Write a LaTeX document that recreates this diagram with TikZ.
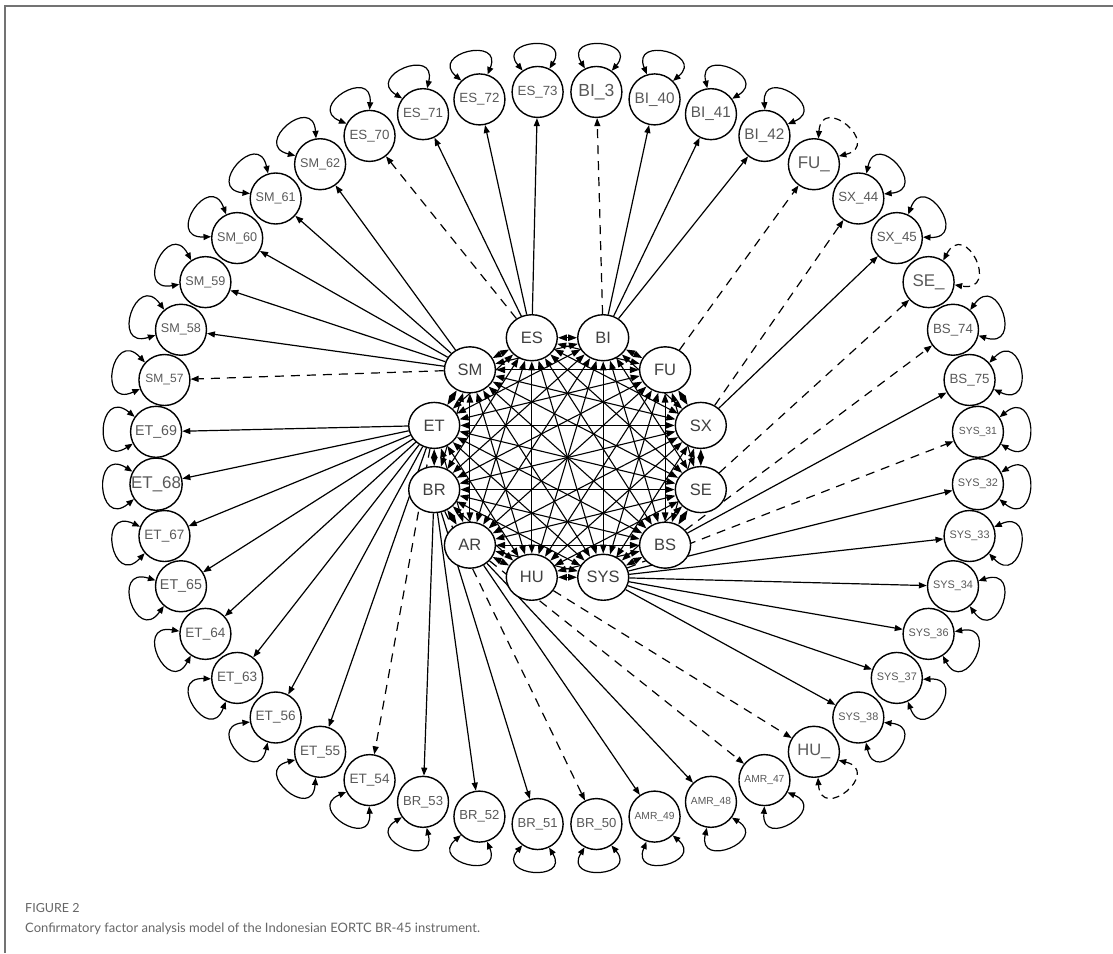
\documentclass[tikz,border=0pt]{standalone}
\usepackage{fontspec}
\setmainfont{Liberation Sans}
\newfontfamily\capfont{Lato}
\usepackage{graphicx}
\usetikzlibrary{arrows.meta,shapes.geometric}
\pgfdeclarelayer{background}
\pgfsetlayers{background,main}
\begin{document}
\begin{tikzpicture}[x=1pt,y=-1pt,
  latnode/.style={draw, line width=1.4pt, fill=white, ellipse, minimum width=51pt, minimum height=46pt, inner sep=0pt, font=\fontsize{16.5}{16.5}\selectfont, text=black!75},
  indnode/.style={draw, line width=1.4pt, fill=white, circle, minimum size=51pt, inner sep=0pt, text=black!65},
  load/.style={line width=1.2pt, -{Triangle[length=8pt,width=6pt]}},
  fixload/.style={load, dash pattern=on 9pt off 7pt},
  cov/.style={line width=1.1pt, {Triangle[length=9pt,width=6.5pt]}-{Triangle[length=9pt,width=6.5pt]}},
  selfloop/.style={line width=1.2pt, {Triangle[length=7.5pt,width=6pt]}-{Triangle[length=7.5pt,width=6pt]}},
  fixloop/.style={selfloop, dash pattern=on 7pt off 5pt},
  framel/.style={draw=black!55, line width=1.6pt}
]
\useasboundingbox (0,0) rectangle (1113,953);
% frame
\coordinate (ftl) at (5,6);
\coordinate (ftr) at (1113,6);
\coordinate (fbl) at (5,953);
\draw[framel] (fbl) -- (ftl) -- (ftr);

% latent factors
\foreach \nm/\ang in {ES/105,BI/75,FU/45,SX/15,SE/-15,BS/-45,SYS/-75,HU/-105,AR/-135,BR/-165,ET/165,SM/135}{
  \pgfmathsetmacro\px{567.5+138*cos(\ang)}
  \pgfmathsetmacro\py{457.5-124*sin(\ang)}
  \node[latnode] (\nm) at (\px,\py) {\nm};
}

% indicators
\foreach \nm/\lab/\w/\ls [count=\k from 0] in {
  ES73/ES\_73/40/selfloop, ES72/ES\_72/40/selfloop, ES71/ES\_71/40/selfloop, ES70/ES\_70/40/selfloop,
  SM62/SM\_62/40/selfloop, SM61/SM\_61/40/selfloop, SM60/SM\_60/40/selfloop, SM59/SM\_59/40/selfloop,
  SM58/SM\_58/40/selfloop, SM57/SM\_57/38/selfloop,
  ET69/ET\_69/42/selfloop, ET68/ET\_68/50/selfloop, ET67/ET\_67/40/selfloop, ET65/ET\_65/42/selfloop,
  ET64/ET\_64/40/selfloop, ET63/ET\_63/40/selfloop, ET56/ET\_56/40/selfloop, ET55/ET\_55/40/selfloop,
  ET54/ET\_54/40/selfloop,
  BR53/BR\_53/40/selfloop, BR52/BR\_52/40/selfloop, BR51/BR\_51/40/selfloop, BR50/BR\_50/40/selfloop,
  AMR49/AMR\_49/40/selfloop, AMR48/AMR\_48/40/selfloop, AMR47/AMR\_47/40/selfloop,
  HUi/HU\_/33/fixloop,
  SYS38/SYS\_38/40/selfloop, SYS37/SYS\_37/40/selfloop, SYS36/SYS\_36/40/selfloop, SYS34/SYS\_34/40/selfloop,
  SYS33/SYS\_33/40/selfloop, SYS32/SYS\_32/40/selfloop, SYS31/SYS\_31/38/selfloop,
  BS75/BS\_75/40/selfloop, BS74/BS\_74/40/selfloop,
  SEi/SE\_/32/fixloop,
  SX45/SX\_45/40/selfloop, SX44/SX\_44/40/selfloop,
  FUi/FU\_/32/fixloop,
  BI42/BI\_42/40/selfloop, BI41/BI\_41/40/selfloop, BI40/BI\_40/40/selfloop, BI3/BI\_3/36/selfloop}{
  \pgfmathsetmacro\t{94.0909+8.181818*\k}
  \pgfmathsetmacro\px{567+412*cos(\t)}
  \pgfmathsetmacro\py{458-367*sin(\t)}
  \node[indnode] (\nm) at (\px,\py) {\resizebox{\w pt}{!}{\lab}};
  \pgfmathsetmacro\ang{atan2(367*sin(\t),412*cos(\t))}
  \pgfmathsetmacro\aa{mod(\ang+31+720,360)}
  \pgfmathsetmacro\ab{mod(\ang-31+720,360)}
  \pgfmathsetmacro\ca{\ang+36}
  \pgfmathsetmacro\cb{\ang-36}
  \pgfmathsetmacro\cl{40+8*abs(cos(\ang))}
  \draw[\ls] (\nm.\aa) .. controls +(\ca:\cl pt) and +(\cb:\cl pt) .. (\nm.\ab);
}

\begin{pgfonlayer}{background}
% covariances between factors
\foreach \a [count=\i] in {ES,BI,FU,SX,SE,BS,SYS,HU,AR,BR,ET,SM}{
  \foreach \b [count=\j] in {ES,BI,FU,SX,SE,BS,SYS,HU,AR,BR,ET,SM}{
    \ifnum\j>\i \draw[cov] (\a) -- (\b); \fi
  }
}
% loadings
\foreach \f/\v/\s in {
  ES/ES70/fixload, ES/ES71/load, ES/ES72/load, ES/ES73/load,
  SM/SM57/fixload, SM/SM58/load, SM/SM59/load, SM/SM60/load, SM/SM61/load, SM/SM62/load,
  ET/ET54/fixload, ET/ET55/load, ET/ET56/load, ET/ET63/load, ET/ET64/load, ET/ET65/load, ET/ET67/load, ET/ET68/load, ET/ET69/load,
  BR/BR50/fixload, BR/BR51/load, BR/BR52/load, BR/BR53/load,
  AR/AMR47/fixload, AR/AMR48/load, AR/AMR49/load,
  HU/HUi/fixload,
  SYS/SYS31/fixload, SYS/SYS32/load, SYS/SYS33/load, SYS/SYS34/load, SYS/SYS36/load, SYS/SYS37/load, SYS/SYS38/load,
  BS/BS74/fixload, BS/BS75/load,
  SE/SEi/fixload,
  SX/SX44/fixload, SX/SX45/load,
  FU/FUi/fixload,
  BI/BI3/fixload, BI/BI40/load, BI/BI41/load, BI/BI42/load}{
  \draw[\s] (\f) -- (\v);
}
\end{pgfonlayer}

% caption
\node[anchor=base west, inner sep=0pt, font=\capfont\fontsize{12.5}{14}\selectfont, text=black!60] (fignum) at (25,912) {FIGURE 2};
\node[anchor=base west, inner sep=0pt, font=\capfont\fontsize{13}{15}\selectfont, text=black!60] (figcap) at (25,932) {Confirmatory factor analysis model of the Indonesian EORTC BR-45 instrument.};
\end{tikzpicture}
\end{document}
